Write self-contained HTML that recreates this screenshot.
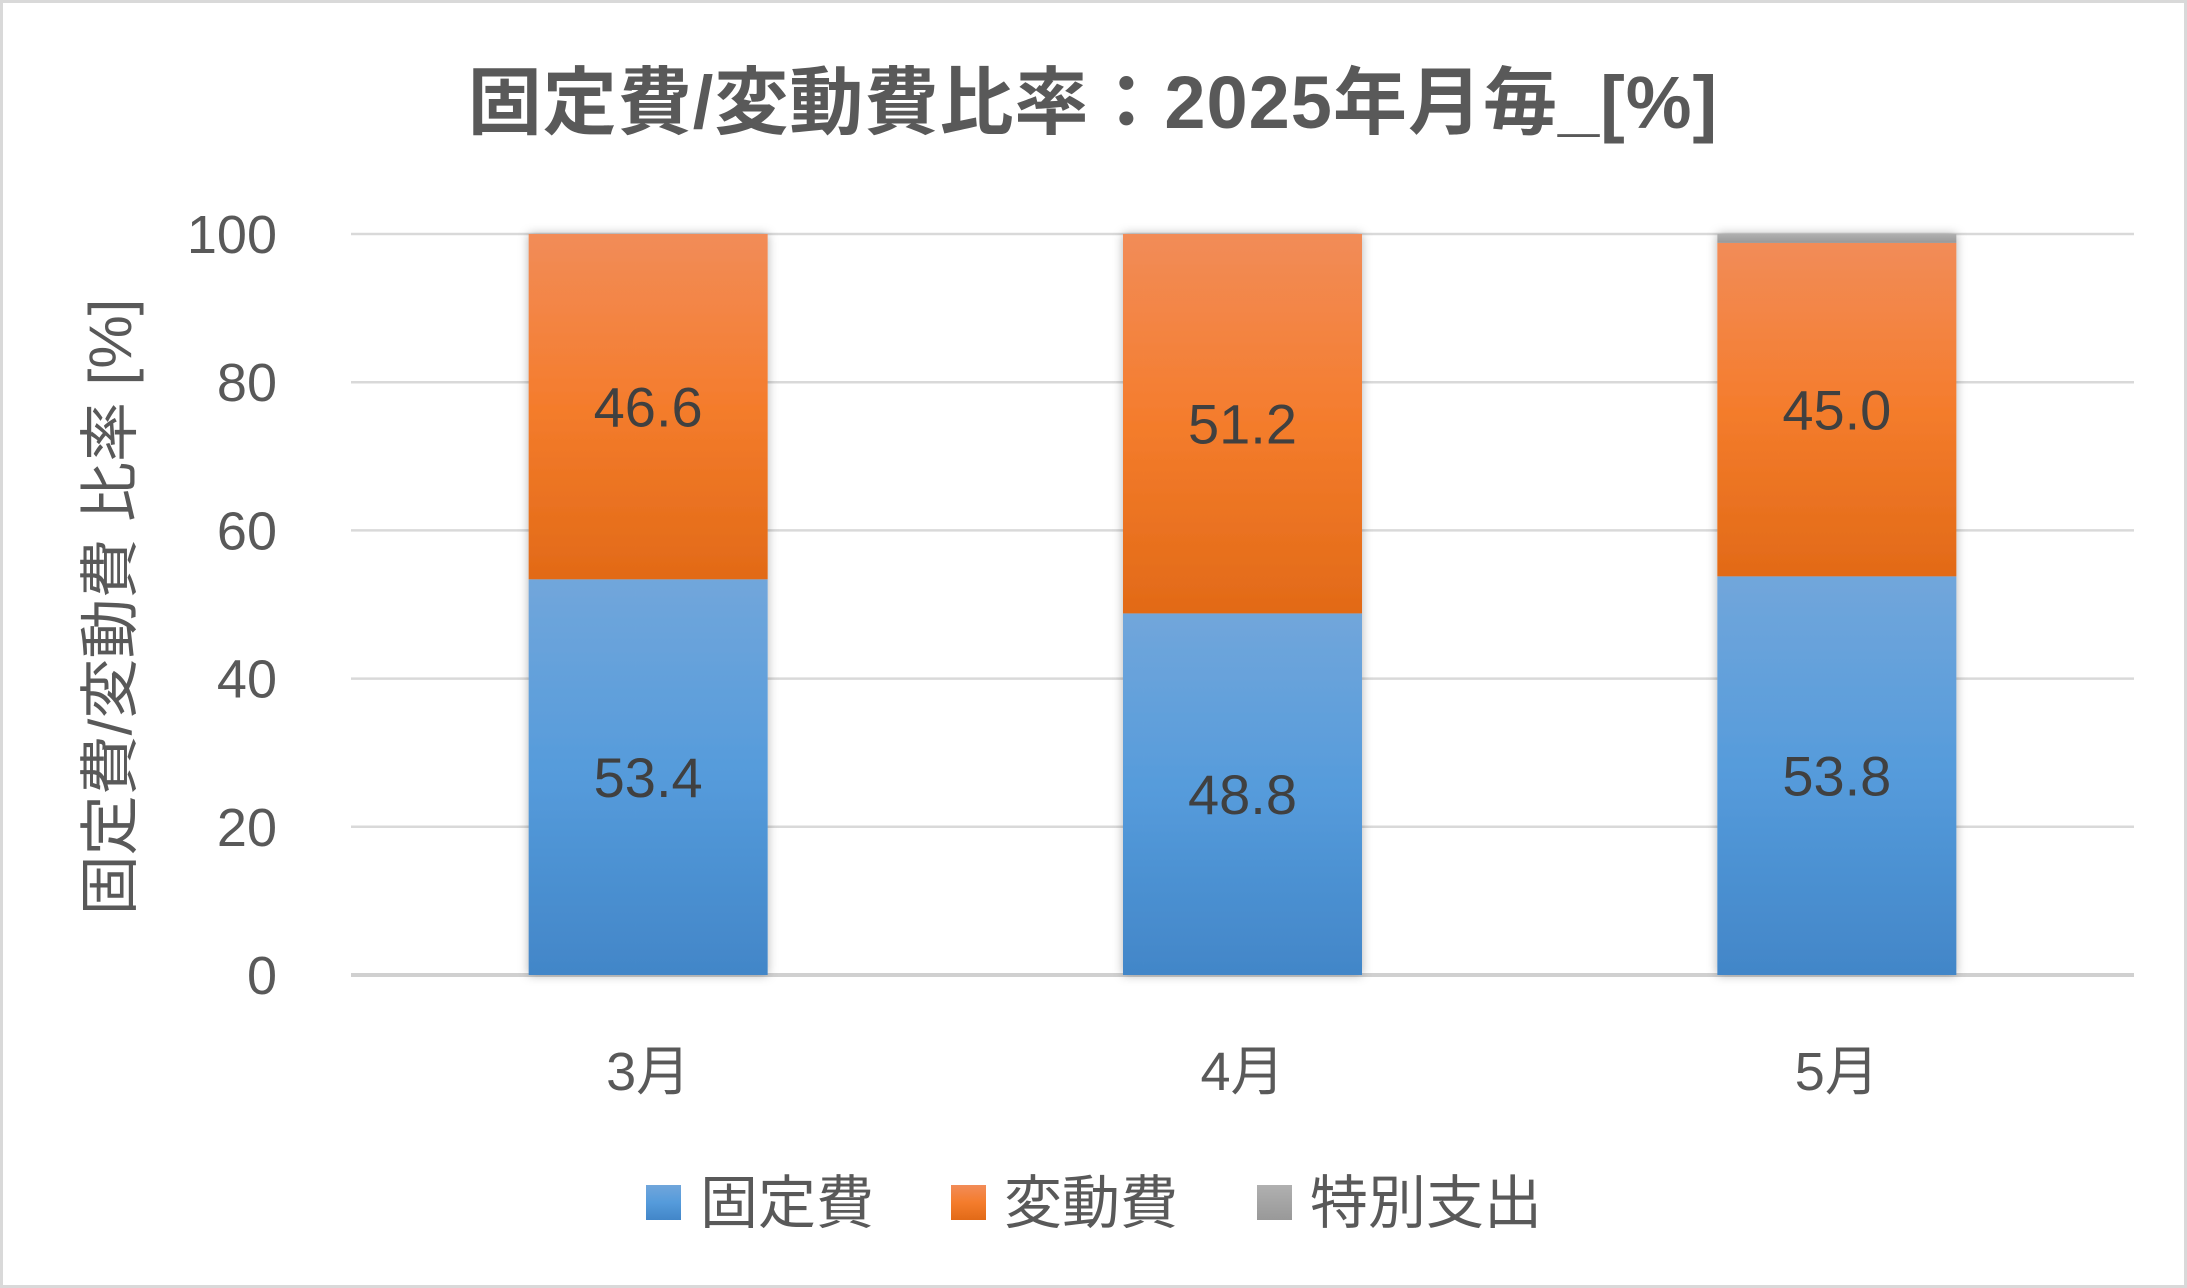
<!DOCTYPE html>
<html><head><meta charset="utf-8"><style>
body{margin:0;background:#fff}
svg{display:block;font-family:"Liberation Sans","Noto Sans CJK JP",sans-serif}
</style></head><body>
<svg id="chart" width="2187" height="1288" viewBox="0 0 2187 1288">
<defs>
<linearGradient id="gb" x1="0" y1="0" x2="0" y2="1"><stop offset="0" stop-color="#71a6db"/><stop offset="0.5" stop-color="#559bdb"/><stop offset="1" stop-color="#4286c8"/></linearGradient>
<linearGradient id="go" x1="0" y1="0" x2="0" y2="1"><stop offset="0" stop-color="#f28c58"/><stop offset="0.5" stop-color="#f47c2c"/><stop offset="1" stop-color="#e26a17"/></linearGradient>
<linearGradient id="gg" x1="0" y1="0" x2="0" y2="1"><stop offset="0" stop-color="#b0b0b0"/><stop offset="1" stop-color="#999"/></linearGradient>
<filter id="sh" x="-10%" y="-5%" width="120%" height="110%"><feDropShadow dx="0" dy="0" stdDeviation="5" flood-color="#000" flood-opacity="0.3"/></filter>
</defs>
<rect x="1.5" y="1.5" width="2184" height="1285" fill="#fff" stroke="#d9d9d9" stroke-width="3"/>
<text x="1093" y="128" text-anchor="middle" font-size="74" font-weight="bold" fill="#595959" letter-spacing="1">固定費/変動費比率：2025年月毎_[%]</text>
<text transform="translate(131,607) rotate(-90)" text-anchor="middle" font-size="60" fill="#595959">固定費/変動費 比率 [%]</text>
<g id="grid"></g><g id="bars"></g><g id="labels"></g>
<g>
<rect x="646" y="1185" width="35" height="35" fill="url(#gb)"/>
<text x="700" y="1223" font-size="58" fill="#595959">固定費</text>
<rect x="951" y="1185" width="35" height="35" fill="url(#go)"/>
<text x="1004" y="1223" font-size="58" fill="#595959">変動費</text>
<rect x="1257" y="1185" width="35" height="35" fill="url(#gg)"/>
<text x="1310" y="1223" font-size="58" fill="#595959">特別支出</text>
</g>
</svg>
<script>
const categories=["3月","4月","5月"];
const fixedVals=[53.4,48.8,53.8];
const variableVals=[46.6,51.2,45.0];
const specialVals=[0,0,1.2];
const yTicks=[0,20,40,60,80,100];
const NS="http://www.w3.org/2000/svg";
const L=351,R=2134,T=234,B=975,bw=239;
const y=v=>B-(B-T)*v/100;
const xc=i=>L+(R-L)/categories.length*(i+0.5);
function mk(tag,attrs,parent,txt){const e=document.createElementNS(NS,tag);for(const k in attrs)e.setAttribute(k,attrs[k]);if(txt!==undefined)e.textContent=txt;document.getElementById(parent).appendChild(e);return e;}
yTicks.forEach(t=>{
 const g=mk('line',{x1:L,x2:R,y1:y(t),y2:y(t),stroke:t===0?'#d0d0d0':'#d9d9d9','stroke-width':t===0?4:2.5},'grid');
 
 
 const tl=mk('text',{x:277,y:y(t)+19,'text-anchor':'end','font-size':54,fill:'#595959'},'grid',t);
 
 
});
categories.forEach((c,i)=>{
 const x0=xc(i)-bw/2;
 const segs=[[fixedVals[i],'url(#gb)','fixed'],[variableVals[i],'url(#go)','variable'],[specialVals[i],'url(#gg)','special']];
 let base=0;
 const grp=mk('g',{filter:'url(#sh)'},'bars');
 
 
 segs.forEach(([v,f,n])=>{
  if(v>0){
   const r=document.createElementNS(NS,'rect');
   r.setAttribute('x',x0);r.setAttribute('y',y(base+v));r.setAttribute('width',bw);r.setAttribute('height',y(base)-y(base+v));r.setAttribute('fill',f);
   
   
   grp.appendChild(r);
   if(n!=='special'){
    const t=mk('text',{x:xc(i),y:(y(base)+y(base+v))/2+20,'text-anchor':'middle','font-size':56,fill:'#404040'},'labels',v.toFixed(1));
    
    
   }
  }
  base+=v;
 });
 const xl=mk('text',{x:xc(i),y:1090,'text-anchor':'middle','font-size':54,fill:'#595959'},'labels',c);
 
 
});
</script>
</body></html>
